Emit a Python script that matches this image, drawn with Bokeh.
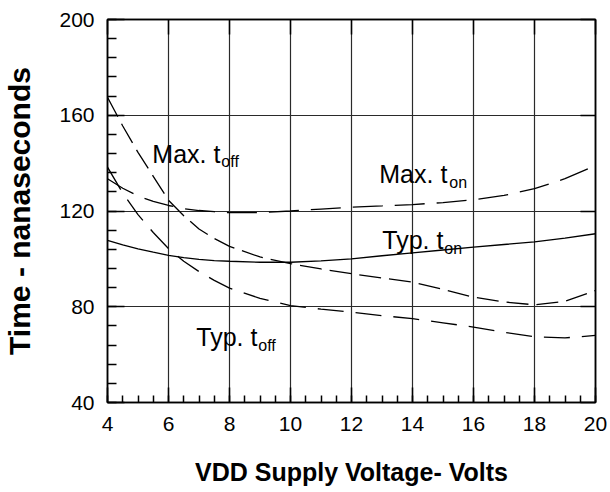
from bokeh.plotting import figure
from bokeh.models import LinearAxis, Range1d, SingleIntervalTicker, ColumnDataSource, CustomJSTickFormatter
from bokeh.core.properties import value
from bokeh.embed import file_html
from bokeh.resources import INLINE

# ---- data ----
voltage = [4, 4.5, 5, 5.5, 6, 6.5, 7, 7.5, 8, 9, 10, 11, 12, 13, 14, 15, 16, 17, 18, 19, 20]
max_toff = [167.5, 155.5, 144.5, 134.5, 124.5, 118.0, 112.5, 108.5, 105.2, 100.8, 98.0, 95.8,
            93.8, 92.0, 90.3, 87.3, 84.0, 82.0, 80.8, 82.3, 86.8]
max_ton = [133.5, 129.5, 126.3, 124.0, 122.3, 121.0, 120.2, 119.7, 119.3, 119.3, 120.0, 120.8,
           121.6, 122.1, 122.7, 123.5, 124.7, 126.5, 129.3, 133.5, 139.0]
typ_ton = [107.7, 105.8, 104.2, 102.8, 101.5, 100.5, 99.8, 99.3, 99.0, 98.6, 98.6, 99.2,
           100.0, 101.3, 102.5, 103.7, 104.9, 106.0, 107.1, 108.7, 110.5]
typ_toff = [138.3, 127.5, 118.5, 111.0, 104.3, 99.0, 94.7, 91.0, 87.8, 83.5, 80.5, 79.0,
            77.7, 76.3, 75.0, 73.3, 71.5, 69.3, 67.5, 67.0, 68.0]

label_main = ["Max. t", "Max. t", "Typ. t", "Typ. t"]
label_sub = ["off", "on", "on", "off"]
label_x = [5.47, 12.91, 13.01, 6.91]
label_y = [144.0, 135.3, 107.7, 67.3]
label_sub_dx = [69, 70, 62, 62]

x_title = "VDD Supply Voltage- Volts"
y_title = "Time - nanaseconds"

FONT = "Liberation Sans"

p = figure(width=610, height=492, x_range=Range1d(4, 20), y_range=Range1d(40, 200),
           output_backend="svg", toolbar_location=None,
           min_border_left=106, min_border_right=15, min_border_top=19, min_border_bottom=90,
           background_fill_color="white", border_fill_color="white")

p.outline_line_color = "black"
p.outline_line_width = 1.5

# bottom axis
xa = p.xaxis[0]
xa.ticker = SingleIntervalTicker(interval=2, num_minor_ticks=4)
xa.major_tick_in = 15
xa.major_tick_out = 0
xa.minor_tick_in = 7
xa.minor_tick_out = 0
xa.major_tick_line_width = 1.5
xa.minor_tick_line_width = 1.5
xa.axis_line_width = 1.5
xa.axis_line_color = "black"
xa.major_tick_line_color = "black"
xa.minor_tick_line_color = "black"
xa.major_label_text_font = FONT
xa.major_label_text_font_size = "21px"
xa.major_label_text_color = "black"
xa.major_label_standoff = 14
xa.axis_label = x_title
xa.axis_label_text_font = FONT
xa.axis_label_text_font_style = "bold"
xa.axis_label_text_font_size = "25px"
xa.axis_label_text_color = "black"
xa.axis_label_standoff = 24

# left axis
ya = p.yaxis[0]
ya.ticker = SingleIntervalTicker(interval=40, num_minor_ticks=5)
ya.major_tick_in = 17
ya.major_tick_out = 0
ya.minor_tick_in = 9
ya.minor_tick_out = 0
ya.major_tick_line_width = 1.5
ya.minor_tick_line_width = 1.5
ya.axis_line_width = 1.5
ya.axis_line_color = "black"
ya.major_tick_line_color = "black"
ya.minor_tick_line_color = "black"
ya.major_label_text_font = FONT
ya.major_label_text_font_size = "21px"
ya.major_label_text_color = "black"
ya.major_label_standoff = 13
ya.axis_label = y_title
ya.axis_label_text_font = FONT
ya.axis_label_text_font_style = "bold"
ya.axis_label_text_font_size = "30px"
ya.axis_label_text_color = "black"
ya.axis_label_standoff = 20

# top and right axes: inward major ticks only, no labels
blank = CustomJSTickFormatter(code="return ''")
top = LinearAxis(ticker=SingleIntervalTicker(interval=2, num_minor_ticks=0), formatter=blank,
                 major_label_standoff=0, major_label_text_font_size="1px",
                 major_tick_in=15, major_tick_out=0, minor_tick_in=0, minor_tick_out=0,
                 major_tick_line_width=1.5, axis_line_color="black", axis_line_width=1.5)
right = LinearAxis(ticker=SingleIntervalTicker(interval=40, num_minor_ticks=0), formatter=blank,
                   major_label_standoff=0, major_label_text_font_size="1px",
                   major_tick_in=15, major_tick_out=0, minor_tick_in=0, minor_tick_out=0,
                   major_tick_line_width=1.5, axis_line_color="black", axis_line_width=1.5)
p.add_layout(top, "above")
p.add_layout(right, "right")

for g in (p.xgrid[0], p.ygrid[0]):
    g.grid_line_color = "#2a2a2a"
    g.grid_line_width = 1.2
p.xgrid[0].ticker = xa.ticker
p.ygrid[0].ticker = ya.ticker

# curves
p.line(voltage, max_toff, line_color="black", line_width=1.3, line_dash="22 8")
p.line(voltage, max_ton, line_color="black", line_width=1.3, line_dash="30 12")
p.line(voltage, typ_toff, line_color="black", line_width=1.3, line_dash="26 12")
p.line(voltage, typ_ton, line_color="black", line_width=1.3)

# labels
src = ColumnDataSource(dict(x=label_x, y=label_y, main=label_main, sub=label_sub, dx=label_sub_dx))
p.text(x="x", y="y", text="main", source=src, text_font=value(FONT), text_font_size="25px",
       text_color="black", text_baseline="alphabetic", text_align="left")
p.text(x="x", y="y", text="sub", source=src, x_offset="dx", y_offset=8, text_font=value(FONT),
       text_font_size="16px", text_color="black", text_baseline="alphabetic", text_align="left")

open("out.html", "w").write(file_html(p, INLINE))
